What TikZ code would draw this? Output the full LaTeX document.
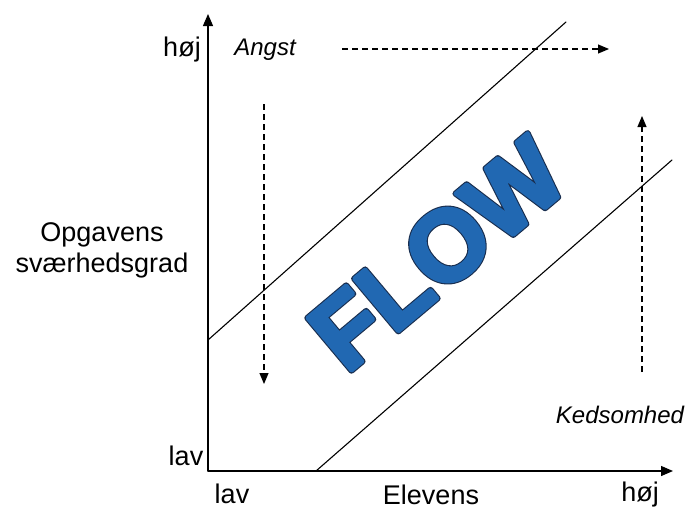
\documentclass[tikz,border=0pt]{standalone}
\usepackage{fontspec}
\setmainfont{Liberation Sans}
\usetikzlibrary{arrows.meta}
\definecolor{flowblaa}{RGB}{33,104,178}

\begin{document}
\begin{tikzpicture}[line cap=round,line join=round,x=1pt,y=-1pt,
    akse/.style={line width=1.3pt,-{Triangle[length=12pt,width=10pt]}},
    pil/.style={line width=1.1pt,line cap=butt,dash pattern=on 6pt off 4pt,-{Triangle[length=11pt,width=9pt]}},
    kant/.style={line width=1.1pt},
    tekst/.style={font=\fontsize{27}{31}\selectfont},
    kursiv/.style={font=\fontsize{24}{28}\selectfont\itshape},
    flowtekst/.style={rotate=40,font=\fontsize{100}{100}\selectfont\bfseries}]
        \useasboundingbox (0,0) rectangle (685,509);
        % Akser
        \coordinate (O) at (208,471);
        \coordinate (ytop) at (208,14);
        \coordinate (xend) at (673,471);
        \draw[akse] (O)--(ytop);
        \draw[akse] (O)--(xend);
        % Flow-kanal
        \coordinate (o1) at (208,340);
        \coordinate (o2) at (566,22);
        \coordinate (n1) at (316,471);
        \coordinate (n2) at (672,160);
        \draw[kant] (o1)--(o2);
        \draw[kant] (n1)--(n2);
        % Stiplede pile
        \coordinate (a1) at (342,49);
        \coordinate (a2) at (609,49);
        \coordinate (b1) at (264,104);
        \coordinate (b2) at (264,384);
        \coordinate (c1) at (642,372);
        \coordinate (c2) at (642,116);
        \draw[pil] (a1)--(a2);
        \draw[pil] (b1)--(b2);
        \draw[pil] (c1)--(c2);
        % Tekster
        \node[tekst] (yhoej) at (182,50) {høj};
        \node[tekst] (ylav) at (186,456) {lav};
        \node[tekst,align=center] (yakse) at (102,250) {Opgavens\\sværhedsgrad};
        \node[tekst] (xlav) at (232,494) {lav};
        \node[tekst] (xakse) at (431,495) {Elevens};
        \node[tekst] (xhoej) at (640,495) {høj};
        \node[kursiv] (angst) at (265,50) {Angst};
        \node[kursiv] (keds) at (620,415) {Kedsomhed};
        % FLOW (fed kontur, derefter blaa fyld ovenpaa)
        \node[flowtekst] (flow) at (437,254)
            {\color{flowblaa}\rlap{\special{pdf:code 2 Tr 6 w 0.1 0.18 0.31 RG}FLOW}%
             \special{pdf:code 2 Tr 3.8 w 0.129 0.408 0.698 RG}FLOW\special{pdf:code 0 Tr}};
\end{tikzpicture}
\end{document}
